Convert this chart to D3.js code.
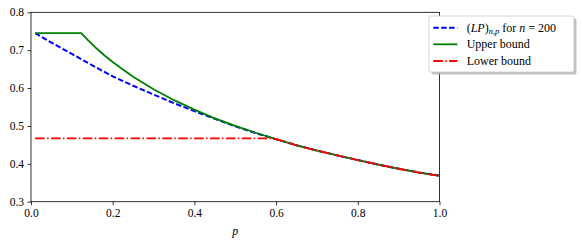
<!DOCTYPE html>
<html>
<head>
<meta charset="utf-8">
<script src="https://cdn.jsdelivr.net/npm/d3@7"></script>
<style>
  body { margin: 0; background: #fff; }
  svg text { font-family: "Liberation Serif", "DejaVu Serif"; }
</style>
</head>
<body>
<svg id="chart" width="581" height="244"></svg>
<script>
// ---- data ----
const xTicks = [0.0, 0.2, 0.4, 0.6, 0.8, 1.0];
const yTicks = [0.3, 0.4, 0.5, 0.6, 0.7, 0.8];

const lpP = [0.01,0.05,0.10,0.15,0.20,0.25,0.30,0.35,0.40,0.45,0.50,0.55,0.60,0.65,0.70,0.75,0.80,0.85,0.90,0.95,1.00];
const lpV = [0.745,0.720,0.690,0.660,0.631,0.606,0.583,0.560,0.539,0.519,0.499,0.481,0.465,0.449,0.435,0.422,0.410,0.398,0.387,0.377,0.369];

const upP = [0.01,0.123,0.14,0.16,0.18,0.20,0.225,0.25,0.30,0.35,0.40,0.45,0.50,0.55,0.60,0.65,0.70,0.75,0.80,0.85,0.90,0.95,1.00];
const upV = [0.745,0.745,0.726,0.705,0.686,0.669,0.649,0.630,0.597,0.568,0.543,0.520,0.500,0.482,0.465,0.449,0.435,0.422,0.410,0.398,0.387,0.377,0.368];

const loP = [0.01,0.589,0.60,0.65,0.70,0.75,0.80,0.85,0.90,0.95,1.00];
const loV = [0.467,0.467,0.465,0.449,0.435,0.422,0.410,0.398,0.387,0.377,0.368];

const legendLabels = ["lp", "Upper bound", "Lower bound"];

// ---- layout ----
const FONT = '"Liberation Serif", "DejaVu Serif"';
const svg = d3.select("#chart");
const L = 31, R = 439.5, T = 12.3, B = 201.7;
const x = d3.scaleLinear().domain([0, 1]).range([L, R]);
const y = d3.scaleLinear().domain([0.3, 0.8]).range([B, T]);

// axes
const xAxis = d3.axisBottom(x).tickValues(xTicks).tickFormat(d3.format(".1f")).tickSize(3.5).tickPadding(3.5);
const yAxis = d3.axisLeft(y).tickValues(yTicks).tickFormat(d3.format(".1f")).tickSize(3.5).tickPadding(3.5);

const gx = svg.append("g").attr("transform", `translate(0,${B})`).call(xAxis);
const gy = svg.append("g").attr("transform", `translate(${L},0)`).call(yAxis);
[gx, gy].forEach(g => {
  g.attr("font-family", FONT);
  g.select(".domain").remove();
  g.selectAll("line").attr("stroke", "#000").attr("stroke-width", 0.8);
  g.selectAll("text").attr("font-size", 11.5).attr("fill", "#000").style("font-family", FONT);
});

// frame
svg.append("rect").attr("x", L).attr("y", T).attr("width", R - L).attr("height", B - T)
  .attr("fill", "none").attr("stroke", "#000").attr("stroke-width", 0.8);

// x label
svg.append("text").attr("x", (L + R) / 2).attr("y", 235).attr("text-anchor", "middle")
  .attr("font-size", 12).attr("font-style", "italic").style("font-family", FONT).text("p");

// lines
const line = d3.line().x(d => x(d[0])).y(d => y(d[1]));
const zip = (a, b) => a.map((v, i) => [v, b[i]]);

const plotG = svg.append("g");
plotG.append("path").datum(zip(lpP, lpV)).attr("d", line)
  .attr("fill", "none").attr("stroke", "#0000ff").attr("stroke-width", 2)
  .attr("stroke-dasharray", "5.5,2.4");
plotG.append("path").datum(zip(upP, upV)).attr("d", line)
  .attr("fill", "none").attr("stroke", "#008000").attr("stroke-width", 1.8);
plotG.append("path").datum(zip(loP, loV)).attr("d", line)
  .attr("fill", "none").attr("stroke", "#ff0000").attr("stroke-width", 1.8)
  .attr("stroke-dasharray", "9.6,2.4,1.5,2.4");

// legend
const lg = svg.append("g");
const lx = 429, ly = 16, lw = 145, lh = 56;
lg.append("rect").attr("x", lx + 2.5).attr("y", ly + 2.5).attr("width", lw).attr("height", lh)
  .attr("rx", 2).attr("fill", "#b0b0b0").attr("opacity", 0.8);
lg.append("rect").attr("x", lx).attr("y", ly).attr("width", lw).attr("height", lh)
  .attr("rx", 2).attr("fill", "#fff").attr("stroke", "#cccccc").attr("stroke-width", 0.8);

const rows = [27.7, 44.3, 61];
const styles = [
  {c: "#0000ff", dash: "5.5,2.4", w: 2},
  {c: "#008000", dash: null, w: 1.8},
  {c: "#ff0000", dash: "9.6,2.4,1.5,2.4", w: 1.8}
];
rows.forEach((ry, i) => {
  const s = styles[i];
  const ln = lg.append("line").attr("x1", 433.3).attr("x2", 457.3).attr("y1", ry).attr("y2", ry)
    .attr("stroke", s.c).attr("stroke-width", s.w);
  if (s.dash) ln.attr("stroke-dasharray", s.dash);
  const t = lg.append("text").attr("x", 466.7).attr("y", ry + 4).attr("font-size", 12)
    .style("font-family", FONT);
  if (legendLabels[i] === "lp") {
    t.append("tspan").text("(");
    t.append("tspan").attr("font-style", "italic").text("LP");
    t.append("tspan").text(")");
    t.append("tspan").attr("font-style", "italic").attr("font-size", 8.5).attr("dy", 2.5).text("n,p");
    t.append("tspan").attr("dy", -2.5).text(" for ");
    t.append("tspan").attr("font-style", "italic").text("n");
    t.append("tspan").text(" = 200");
  } else {
    t.text(legendLabels[i]);
  }
});
</script>
</body>
</html>
